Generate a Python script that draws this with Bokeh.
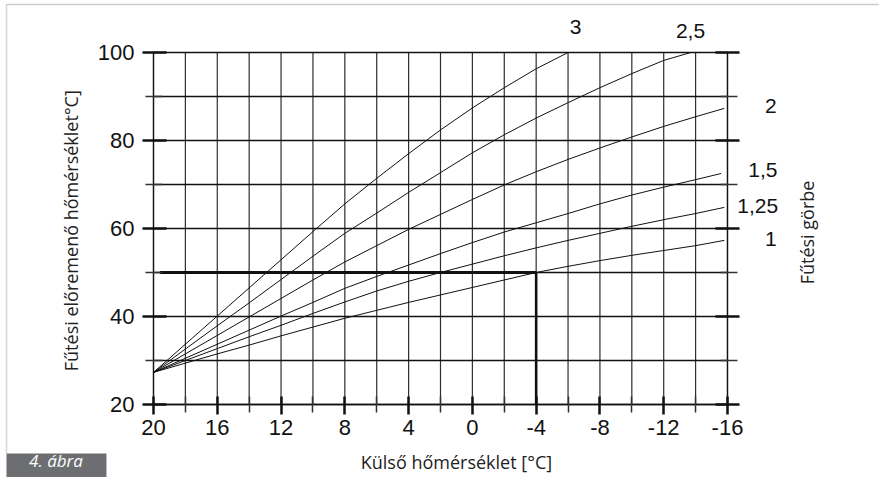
from bokeh.plotting import figure
from bokeh.models import Range1d, LinearAxis, FixedTicker, Label, PolyAnnotation
from bokeh.embed import file_html
from bokeh.resources import INLINE
from math import pi

# ---------------- data ----------------
x_major = [20, 16, 12, 8, 4, 0, -4, -8, -12, -16]
x_minor = [18, 14, 10, 6, 2, -2, -6, -10, -14]
x_tick_labels = ["20", "16", "12", "8", "4", "0", "-4", "-8", "-12", "-16"]
y_major = [20, 40, 60, 80, 100]
y_minor = [30, 50, 70, 90]
x_lo, x_hi = -16, 20
y_lo, y_hi = 20, 100

curve_names = ["3", "2,5", "2", "1,5", "1,25", "1"]

c3_x = [20, 18, 16, 14, 12, 10, 8, 6, 4, 2, 0, -2, -4, -6]
c3_y = [27.3, 33.7, 40.1, 46.5, 52.9, 59.3, 65.6, 71.4, 77.0, 82.4, 87.4, 92.0, 96.3, 100]

c25_x = [20, 18, 16, 14, 12, 10, 8, 6, 4, 2, 0, -2, -4, -6, -8, -10, -12, -13.7]
c25_y = [27.3, 32.6, 37.9, 43.1, 48.4, 53.7, 58.9, 63.5, 68.2, 72.7, 77.2, 81.3, 85.1, 88.6, 92.0, 95.2, 98.2, 100]

c2_x = [20, 18, 16, 14, 12, 10, 8, 6, 4, 2, 0, -2, -4, -6, -8, -10, -12, -14, -15.8]
c2_y = [27.3, 31.5, 35.7, 39.9, 44.1, 48.3, 52.4, 56.1, 59.8, 63.2, 66.6, 69.9, 72.9, 75.7, 78.3, 80.8, 83.2, 85.4, 87.3]

c15_x = [20, 18, 16, 14, 12, 10, 8, 6, 4, 2, 0, -2, -4, -6, -8, -10, -12, -14, -15.6]
c15_y = [27.3, 30.5, 33.7, 36.9, 40.1, 43.2, 46.4, 49.1, 51.7, 54.3, 56.8, 59.2, 61.3, 63.4, 65.6, 67.6, 69.4, 71.1, 72.5]

c125_x = [20, 18, 16, 14, 12, 10, 8, 6, 4, 2, 0, -2, -4, -6, -8, -10, -12, -14, -15.8]
c125_y = [27.3, 30.0, 32.7, 35.4, 38.0, 40.7, 43.3, 45.8, 48.0, 50.0, 51.9, 53.8, 55.6, 57.3, 58.9, 60.5, 62.0, 63.4, 64.8]

c1_x = [20, 18, 16, 14, 12, 10, 8, 6, 4, 2, 0, -2, -4, -6, -8, -10, -12, -14, -15.8]
c1_y = [27.3, 29.4, 31.5, 33.5, 35.6, 37.6, 39.6, 41.4, 43.2, 44.9, 46.6, 48.3, 50.0, 51.4, 52.7, 53.9, 55.0, 56.1, 57.3]

# example reading: outdoor -4 -> flow 50
example_h_x = [19.6, -4]
example_h_y = [50, 50]
example_v_x = [-4, -4]
example_v_y = [50, 20]

# ---------------- figure ----------------
# The frame covers the whole canvas; the chart area (20..-16, 20..100) sits inside it.
W, H = 879, 477
p = figure(frame_width=W, frame_height=H,
           x_range=Range1d(29.596, -25.534), y_range=Range1d(3.409, 111.818),
           output_backend="svg", toolbar_location=None,
           x_axis_location=None, y_axis_location=None,
           min_border_left=0, min_border_right=0, min_border_top=0, min_border_bottom=0)
p.outline_line_color = None
p.background_fill_color = "white"
p.border_fill_color = "white"
p.grid.visible = False

TICK_FONT = "Liberation Sans"
TXT_FONT = "Open Sans"
INK = "#111111"

# grid drawn from the tick arrays
all_x = sorted(x_major + x_minor)
all_y = sorted(y_major + y_minor)
p.segment(x0=all_x, y0=[y_lo] * len(all_x), x1=all_x, y1=[y_hi] * len(all_x),
          line_color="#2e2e2e", line_width=1.2)
p.segment(x0=[x_hi] * len(all_y), y0=all_y, x1=[x_lo] * len(all_y), y1=all_y,
          line_color=INK, line_width=1.3)

# bottom axis
xa = LinearAxis(fixed_location=y_lo, bounds=(x_lo, x_hi),
                ticker=FixedTicker(ticks=x_major, minor_ticks=x_minor))
xa.major_label_overrides = {v: s for v, s in zip(x_major, x_tick_labels)}
xa.axis_line_color = INK
xa.axis_line_width = 1.3
xa.major_tick_line_color = INK
xa.major_tick_line_width = 2.5
xa.major_tick_in = 8
xa.major_tick_out = 10
xa.minor_tick_line_color = "#333"
xa.minor_tick_line_width = 1.5
xa.minor_tick_in = 8
xa.minor_tick_out = 8
xa.major_label_text_font = TICK_FONT
xa.major_label_text_font_size = "22px"
xa.major_label_text_color = INK
xa.major_label_standoff = 6
p.add_layout(xa, "below")

# left axis
ya = LinearAxis(fixed_location=x_hi, bounds=(y_lo, y_hi),
                ticker=FixedTicker(ticks=y_major, minor_ticks=y_minor))
ya.axis_line_color = INK
ya.axis_line_width = 1.3
ya.major_tick_line_color = INK
ya.major_tick_line_width = 2.5
ya.major_tick_in = 13
ya.major_tick_out = 11
ya.minor_tick_line_color = "#333"
ya.minor_tick_line_width = 1.3
ya.minor_tick_in = 9
ya.minor_tick_out = 8
ya.major_label_text_font = TICK_FONT
ya.major_label_text_font_size = "22px"
ya.major_label_text_color = INK
ya.major_label_standoff = 8
p.add_layout(ya, "left")

# right axis (ticks only)
ra = LinearAxis(fixed_location=x_lo, bounds=(y_lo, y_hi),
                ticker=FixedTicker(ticks=y_major, minor_ticks=y_minor))
ra.axis_line_color = INK
ra.axis_line_width = 1.3
ra.major_tick_line_color = INK
ra.major_tick_line_width = 2.5
ra.major_tick_in = 12
ra.major_tick_out = 12
ra.minor_tick_line_color = "#333"
ra.minor_tick_line_width = 1.3
ra.minor_tick_in = 7
ra.minor_tick_out = 10
ra.major_label_text_color = None
p.add_layout(ra, "right")

# curves
for xs, ys in [(c3_x, c3_y), (c25_x, c25_y), (c2_x, c2_y), (c15_x, c15_y), (c125_x, c125_y), (c1_x, c1_y)]:
    p.line(xs, ys, line_color=INK, line_width=1.0)

# example reading lines
p.line(example_h_x, example_h_y, line_color=INK, line_width=3)
p.line(example_v_x, example_v_y, line_color=INK, line_width=2.6)

# curve name labels
name_pos = [(-6.47, 105.7), (-13.68, 104.8), (-18.72, 87.9), (-18.22, 73.2), (-17.9, 65.2), (-18.72, 57.5)]
for name, (lx, ly) in zip(curve_names, name_pos):
    p.add_layout(Label(x=lx, y=ly, text=name, text_font=TICK_FONT, text_font_size="21px",
                       text_color=INK, text_align="center", text_baseline="middle"))

# axis titles
p.add_layout(Label(x=1.0, y=6.9, text="Külső hőmérséklet [°C]", text_font=TXT_FONT,
                   text_font_size="18px", text_color="#222", text_align="center", text_baseline="middle"))
p.add_layout(Label(x=25.2, y=59.5, text="Fűtési előremenő hőmérséklet°C]", text_font=TXT_FONT,
                   text_font_size="18px", text_color="#222", text_align="center", text_baseline="middle",
                   angle=pi / 2))
p.add_layout(Label(x=-20.96, y=59.1, text="Fűtési görbe", text_font=TXT_FONT,
                   text_font_size="18px", text_color="#222", text_align="center", text_baseline="middle",
                   angle=pi / 2))

# page frame lines and figure tag
p.add_layout(PolyAnnotation(xs=[29.22, 29.22], ys=[8.86, 110.91], fill_color=None,
                            line_color="#777", line_width=1.5))
p.add_layout(PolyAnnotation(xs=[29.22, -25.5], ys=[110.91, 110.91], fill_color=None,
                            line_color="#555", line_width=1.5))
p.add_layout(PolyAnnotation(xs=[29.22, 22.95, 22.95, 29.22], ys=[8.86, 8.86, 3.3, 3.3],
                            fill_color="#6d6e71", fill_alpha=1.0, line_color=None))
p.add_layout(Label(x=26.115, y=7.2, text="4. ábra", text_font=TXT_FONT, text_font_style="italic",
                   text_font_size="17px", text_color="white", text_align="center",
                   text_baseline="middle"))

open("out.html", "w").write(file_html(p, INLINE))
